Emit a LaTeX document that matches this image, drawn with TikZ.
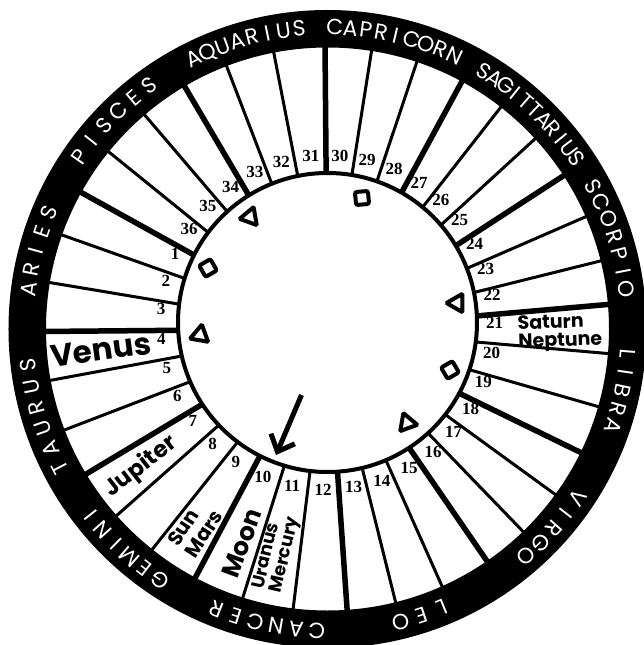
\documentclass[tikz,border=0pt]{standalone}
\usepackage{fontspec}
\setmainfont{Poppins}
\newfontfamily\numfont{Liberation Serif}
\usepackage{tikz}
\usetikzlibrary{arrows.meta,shapes.geometric,calc}

\newcommand\houselist{1/151/160.5, 2/160.5/170.5, 3/170.5/180.5, 4/180.5/190.5,
  5/190.5/201, 6/201/211, 7/211/221.5, 8/221.5/231.5, 9/231.5/242,
  10/242/252.5, 11/252.5/263, 12/263/274, 13/274/284, 14/284/294,
  15/294/304.5, 16/304.5/314, 17/314/324, 18/324/334, 19/334/344,
  20/344/355, 21/355/365, 22/5/14, 23/14/23.5, 24/23.5/33, 25/33/42.5,
  26/42.5/52, 27/52/61.5, 28/61.5/71.5, 29/71.5/81, 30/81/90.5,
  31/90.5/101, 32/101/111, 33/111/120.5, 34/120.5/130.5, 35/130.5/141,
  36/141/151}

\begin{document}
\begin{tikzpicture}[x=1pt, y=1pt,
    signletter/.style={text=white, anchor=base, inner sep=0pt,
      font=\fontsize{22}{22}\selectfont},
    housenum/.style={inner sep=0pt, font=\numfont\bfseries\fontsize{17}{17}\selectfont},
    planet/.style={align=left, inner sep=0pt},
    trine/.style={regular polygon, regular polygon sides=3, draw,
      line width=4pt, minimum size=21pt, inner sep=0pt, rounded corners=1pt},
    quartile/.style={rectangle, draw, line width=4pt, minimum size=13pt,
      inner sep=0pt, rounded corners=2pt}
  ]
  \useasboundingbox (-327.5,-316) rectangle (316.5,329);
  \clip (-327.5,-316) rectangle (316.5,329);
  \fill[white] (-327.5,-316) rectangle (316.5,329);
  \coordinate (hub) at (0,6.5);

  \foreach \n/\a/\b in \houselist {
    \pgfmathsetmacro\lw{mod(\n,3)==0 ? 5.5 : 3}
    \draw[line width=\lw pt] (\b:140) -- (\b:300);
  }
  \draw[line width=4pt, fill=white] (hub) circle (149.5);
  \foreach \n/\a/\b in \houselist
    \node[housenum] (h\n) at ($(hub)+({(\a+\b)/2}:167)$) {\n};

  \fill[even odd rule] (0,0) circle (319) (0,0) circle (281.5);
  \foreach \sgn/\mid/\stp/\cnt/\word in {
      aries/164.9/3.75/5/{A,R,I,E,S},
      taurus/197.2/4.1/6/{T,A,U,R,U,S},
      gemini/227.2/3.6/6/{G,E,M,I,N,I},
      cancer/258.2/3.9/6/{C,A,N,C,E,R},
      leo/288.2/4.2/3/{L,E,O},
      virgo/318.6/3.7/5/{V,I,R,G,O},
      libra/348.2/3.5/5/{L,I,B,R,A},
      scorpio/17.9/3.45/7/{S,C,O,R,P,I,O},
      sagittarius/46.5/2.43/11/{S,A,G,I,T,T,A,R,I,U,S},
      capricorn/76.8/2.95/9/{C,A,P,R,I,C,O,R,N},
      aquarius/105.9/3.0/8/{A,Q,U,A,R,I,U,S},
      pisces/135.75/3.8/6/{P,I,S,C,E,S}} {
    \foreach \ch [count=\i] in \word
      \node[signletter, rotate={\mid+((\cnt+1)/2-\i)*\stp-90}] (\sgn-\i)
        at ({\mid+((\cnt+1)/2-\i)*\stp}:294) {\ch};
  }

  \node[planet, font=\bfseries\fontsize{31}{31}\selectfont, rotate=8] (venus) at (-226.5,-21) {Venus};
  \node[planet, font=\bfseries\fontsize{23}{23}\selectfont, rotate=38] (jupiter) at (-186.5,-138) {Jupiter};
  \node[planet, font=\bfseries\fontsize{20}{21}\selectfont, rotate=57] (sunmars) at (-132.5,-199) {Sun\\Mars};
  \node[planet, font=\bfseries\fontsize{25}{25}\selectfont, rotate=70] (moon) at (-85.5,-214) {Moon};
  \node[planet, font=\bfseries\fontsize{18}{18}\selectfont, rotate=77] (uranusmercury) at (-50.5,-224) {Uranus\\Mercury};
  \node[planet, font=\bfseries\fontsize{19}{18}\selectfont, rotate=2] (saturnneptune) at (232.5,-4) {Saturn\\Neptune};

  \node[trine, rotate=100] (trine1) at (-77.5,112) {};
  \node[quartile, rotate=30] (square1) at (-119.5,61) {};
  \node[trine, rotate=110] (trine2) at (-127.5,-6) {};
  \node[quartile, rotate=5] (square2) at (34.5,131) {};
  \node[trine, rotate=90] (trine3) at (129.5,26) {};
  \node[quartile, rotate=30] (square3) at (122.5,-41) {};
  \node[trine, rotate=20] (trine4) at (79.5,-94) {};

  \coordinate (arrowtail) at (-26,-66);
  \coordinate (arrowtip) at (-51.5,-126);
  \draw[line width=5pt, -{Straight Barb[length=14pt, width=26pt]}] (arrowtail) -- (arrowtip);
\end{tikzpicture}
\end{document}
